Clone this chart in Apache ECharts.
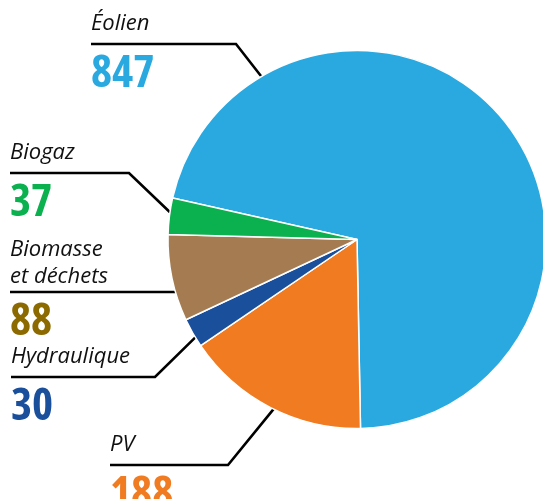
<!DOCTYPE html>
<html>
<head>
<meta charset="utf-8">
<script src="https://cdn.jsdelivr.net/npm/echarts@6/dist/echarts.min.js"></script>
<style>
  html, body { margin: 0; padding: 0; background: #fff; }
  #chart { width: 543px; height: 499px; }
</style>
</head>
<body>
<div id="chart"></div>
<script>
// Installed capacity by source (slices drawn clockwise from Éolien)
const sources = ['Éolien', 'PV', 'Hydraulique', 'Biomasse et déchets', 'Biogaz'];
const sourceLabelLines = [['Éolien'], ['PV'], ['Hydraulique'], ['Biomasse', 'et déchets'], ['Biogaz']];
const capacities = [847, 188, 30, 88, 37];

const sliceColors = ['#29a9e0', '#f07b21', '#1a4f9c', '#a57c52', '#0bb04f'];
const valueColors = ['#29a9e0', '#f07b21', '#1a4f9c', '#8c6a00', '#0bb04f'];

// Pie geometry (px)
const CX = 357, CY = 239.5, R = 189;

// Callouts: text left edge, rule height, knee of the leader, rim angle (deg, ccw from 3 o'clock),
// space between the name and its rule
const callouts = [
  { x: 91,  y: 44,  knee: 236, angle: 120.4, gap: 7 },
  { x: 110, y: 465, knee: 228, angle: 243.8, gap: 7 },
  { x: 11,  y: 377, knee: 155, angle: 211.2, gap: 7 },
  { x: 10,  y: 292, knee: null, angle: 195.9, gap: 2 },
  { x: 10,  y: 173, knee: 129, angle: 171.7, gap: 7 }
];

const NAME_LH = 27;

const chart = echarts.init(document.getElementById('chart'), null, { renderer: 'canvas' });

const data = sources.map((name, i) => ({
  name,
  value: capacities[i],
  itemStyle: { color: sliceColors[i] },
  label: {
    formatter: sourceLabelLines[i].map(l => '{n|' + l + '}').join('\n') +
      '\n{g' + i + '| }\n{v' + i + '|' + capacities[i] + '}'
  }
}));

const rich = {
  n: { fontFamily: 'Open Sans', fontStyle: 'italic', fontSize: 22, lineHeight: NAME_LH, color: '#111' }
};
valueColors.forEach((c, i) => {
  rich['g' + i] = { fontSize: 1, lineHeight: callouts[i].gap };
  rich['v' + i] = {
    fontFamily: 'Open Sans',
    fontWeight: 'bold condensed', fontSize: 45, lineHeight: 61, color: c
  };
});

chart.setOption({
  animation: false,
  series: [{
    type: 'pie',
    center: [CX, CY],
    radius: R,
    startAngle: 167.3,
    clockwise: true,
    avoidLabelOverlap: false,
    itemStyle: { borderColor: '#fff', borderWidth: 1.5 },
    label: { show: true, position: 'outside', rich },
    labelLine: { show: true, lineStyle: { color: '#000', width: 2.6 } },
    emphasis: { disabled: true },
    labelLayout: (params) => {
      const i = params.dataIndex;
      const c = callouts[i];
      const a = c.angle * Math.PI / 180;
      const rx = CX + R * Math.cos(a), ry = CY - R * Math.sin(a);
      const nLines = sourceLabelLines[i].length;
      const knee = c.knee == null ? rx : c.knee;
      return {
        x: c.x,
        y: c.y - nLines * NAME_LH - c.gap,
        align: 'left',
        verticalAlign: 'top',
        labelLinePoints: [[rx, ry], [knee, c.y], [c.x, c.y]]
      };
    },
    data
  }]
});
</script>
</body>
</html>
